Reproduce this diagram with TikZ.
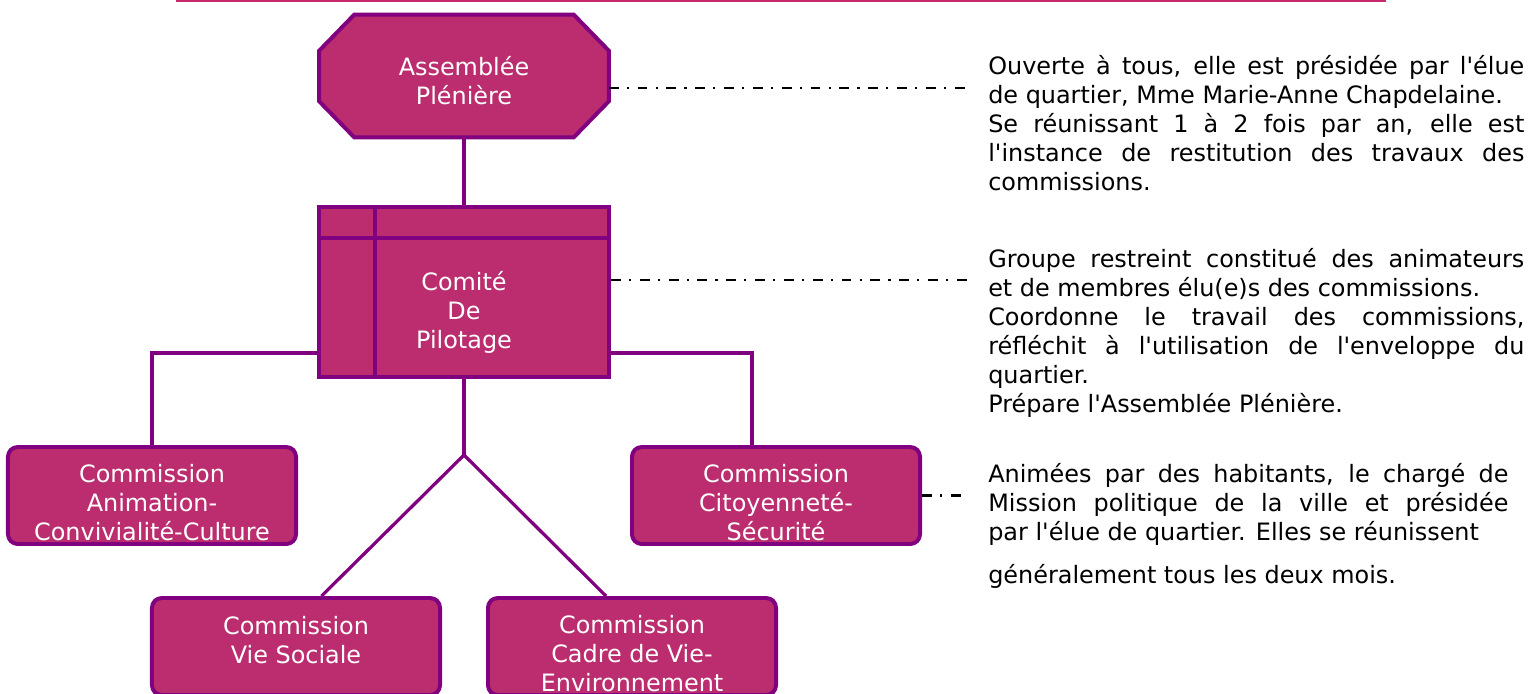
\documentclass[tikz,border=0pt]{standalone}
\usepackage{fontspec}
\setmainfont{DejaVu Sans}[Ligatures=TeXOff]
\usetikzlibrary{positioning,calc}
\definecolor{boxfill}{RGB}{187,45,110}
\definecolor{boxedge}{RGB}{128,0,128}
\definecolor{rulepink}{RGB}{200,40,110}
\tikzset{%
  frame/.style = {draw=boxedge,line width=2.8pt,fill=boxfill},
  octbox/.style = {rectangle,minimum width=7.225cm,
        minimum height=3.05cm,inner sep=0pt},
  pilot/.style = {frame,rectangle,minimum width=7.25cm,
        minimum height=4.25cm,inner sep=0pt},
  com/.style = {frame,rectangle,rounded corners=7pt,minimum width=7.2cm,
        minimum height=2.425cm,inner sep=0pt},
  inner/.style = {draw=boxedge,line width=2.8pt},
  link/.style = {draw=boxedge,line width=2.3pt},
  dotdash/.style = {draw=black,line width=1.5pt,
        dash pattern=on 7pt off 5.8pt on 1.5pt off 6.2pt},
  txt/.style = {white,inner sep=0pt,align=center,
        font=\fontsize{17}{20.6}\selectfont},
  note/.style = {black,inner sep=0pt,anchor=north west,align=justify,
        text width=13.4cm,font=\fontsize{17}{20.6}\selectfont}
}
\begin{document}
\begin{tikzpicture}[x=0.025cm,y=-0.025cm]
\useasboundingbox (0,0) rectangle (1531,693);
\draw[rulepink,line width=1.4pt] (176,1) -- (1386,1);

% boxes
\node[octbox] (ap) at (464,76) {};
\draw[frame] ($(ap.north west)+(35,0)$) -- ($(ap.north east)+(-35,0)$)
  -- ($(ap.north east)+(0,36)$) -- ($(ap.south east)+(0,-36)$)
  -- ($(ap.south east)+(-35,0)$) -- ($(ap.south west)+(35,0)$)
  -- ($(ap.south west)+(0,-36)$) -- ($(ap.north west)+(0,36)$) -- cycle;
\node[txt] (aptxt) at (464,81) {Assemblée\\Plénière};
\node[pilot] (cp) at (464,292) {};
\draw[inner] ($(cp.north west)+(0,33)$) -- ($(cp.north east)+(0,33)$);
\draw[inner] ($(cp.north west)+(58,0)$) -- ($(cp.south west)+(58,0)$);
\node[txt] (cptxt) at (464,312) {Comité\\De\\Pilotage};
\node[com] (anim) at (152,495.5) {};
\node[txt] (animtxt) at (152,503) {Commission\\Animation-\\Convivialité-Culture};
\node[com] (cito) at (776,495.5) {};
\node[txt] (citotxt) at (776,503) {Commission\\Citoyenneté-\\Sécurité};
\node[com] (vie) at (296,646.5) {};
\node[txt] (vietxt) at (296,640) {Commission\\Vie Sociale};
\node[com] (cadre) at (632,646.5) {};
\node[txt] (cadretxt) at (632,654) {Commission\\Cadre de Vie-\\Environnement};

% links
\coordinate (fork) at (464,455);
\draw[link] (ap.south) -- (cp.north);
\draw[link] ($(cp.south west)+(0,-26)$) -| (anim.north);
\draw[link] ($(cp.south east)+(0,-26)$) -| ($(cito.north)+(-24,0)$);
\draw[link] (cp.south) -- (fork);
\draw[link] ($(vie.north)+(25.5,0)$) -- (fork) -- ($(cadre.north)+(-26,0)$);

% notes
\coordinate (e1) at (968,88);
\coordinate (e2) at (968,280);
\coordinate (e3) at (962,495.5);
\draw[dotdash] ($(ap.east)+(0,12)$) -- (e1);
\draw[dotdash] ($(cp.east)+(0,-12)$) -- (e2);
\draw[dotdash] (cito.east) -- (e3);
\node[note] (n1) at (988,55) {Ouverte à tous, elle est présidée par l'élue\linebreak
  de quartier, Mme Marie-Anne Chapdelaine.\\
  Se réunissant 1 à 2 fois par an, elle est\linebreak
  l'instance de restitution des travaux des\linebreak commissions.};
\node[note] (n2) at (988,248) {Groupe restreint constitué des animateurs\linebreak
  et de membres élu(e)s des commissions.\\
  Coordonne le travail des commissions,\linebreak
  réfléchit à l'utilisation de l'enveloppe du\linebreak quartier.\\
  Prépare l'Assemblée Plénière.};
\node[note,text width=13cm] (n3) at (988,463) {Animées par des habitants, le chargé de\linebreak
  Mission politique de la ville et présidée\linebreak
  par l'élue de quartier. Elles se réunissent\\[10pt]
  généralement tous les deux mois.};
\end{tikzpicture}
\end{document}
